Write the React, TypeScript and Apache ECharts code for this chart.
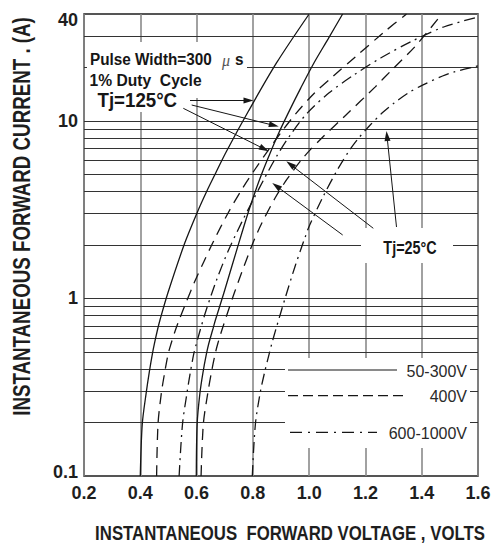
import React, { useEffect, useRef } from 'react';
import * as echarts from 'echarts';

// ---- data (forward voltage V, forward current A) ----
const xTickValues = [0.2, 0.4, 0.6, 0.8, 1.0, 1.2, 1.4, 1.6];
const yGridValues = [0.2, 0.3, 0.4, 0.5, 0.6, 0.7, 0.8, 0.9, 1, 2, 3, 4, 5, 6, 7, 8, 9, 10, 20, 30];

const solid125: [number, number][] = [
  [0.400, 0.1], [0.407, 0.196], [0.421, 0.294], [0.432, 0.385], [0.443, 0.487], [0.450, 0.554],
  [0.461, 0.664], [0.470, 0.756], [0.498, 1.073], [0.558, 2.05], [0.603, 3.07], [0.635, 3.98],
  [0.668, 5.09], [0.705, 6.68], [0.785, 11.4], [0.884, 21.2], [1.000, 40],
];
const solid25: [number, number][] = [
  [0.599, 0.1], [0.602, 0.196], [0.612, 0.294], [0.623, 0.385], [0.635, 0.487], [0.643, 0.554],
  [0.657, 0.664], [0.667, 0.756], [0.697, 1.073], [0.750, 2.05], [0.784, 3.07], [0.808, 3.98],
  [0.830, 4.96], [0.863, 6.68], [0.892, 8.55], [0.926, 11.1], [0.970, 15.3], [1.017, 21.2],
  [1.067, 28.9], [1.119, 40],
];
const dashed125: [number, number][] = [
  [0.458, 0.1], [0.463, 0.196], [0.475, 0.294], [0.487, 0.385], [0.499, 0.487], [0.509, 0.554],
  [0.525, 0.664], [0.538, 0.756], [0.562, 0.943], [0.593, 1.24], [0.625, 1.60], [0.659, 2.08],
  [0.712, 3.03], [0.766, 4.24], [0.806, 5.29], [0.850, 6.68], [0.907, 8.89], [0.955, 11.1],
  [1.020, 14.4], [1.086, 17.9], [1.164, 22.9], [1.267, 31.7], [1.346, 40],
];
const dashed25: [number, number][] = [
  [0.616, 0.1], [0.624, 0.196], [0.640, 0.294], [0.653, 0.385], [0.666, 0.487], [0.675, 0.554],
  [0.690, 0.664], [0.734, 1.073], [0.782, 1.73], [0.806, 2.16], [0.832, 2.66], [0.879, 3.68],
  [0.922, 4.71], [0.981, 6.26], [1.045, 8.01], [1.131, 10.8], [1.234, 15.5], [1.290, 19.1],
  [1.378, 26.4], [1.469, 39.5],
];
const dashDot125: [number, number][] = [
  [0.538, 0.1], [0.550, 0.196], [0.566, 0.294], [0.578, 0.385], [0.590, 0.487], [0.599, 0.554],
  [0.613, 0.664], [0.632, 0.839], [0.671, 1.27], [0.711, 1.83], [0.761, 2.70], [0.801, 3.59],
  [0.842, 4.77], [0.885, 6.34], [0.933, 8.33], [0.994, 11.1], [1.071, 14.4], [1.158, 18.1],
  [1.254, 22.6], [1.367, 28.2], [1.478, 33.8], [1.600, 38.5],
];
const dashDot25: [number, number][] = [
  [0.798, 0.1], [0.809, 0.196], [0.826, 0.294], [0.842, 0.385], [0.858, 0.487], [0.867, 0.554],
  [0.882, 0.673], [0.916, 1.02], [0.949, 1.50], [0.986, 2.22], [1.002, 2.59], [1.049, 3.73],
  [1.100, 5.29], [1.144, 6.86], [1.176, 8.01], [1.217, 9.48], [1.260, 11.1], [1.302, 12.6],
  [1.353, 14.4], [1.403, 15.9], [1.474, 17.9], [1.516, 18.9], [1.600, 20.4],
];

const legendLabels = ['50-300V', '400V', '600-1000V'];

const FONT = '"Liberation Sans", Arial, Helvetica, sans-serif';
const INK = '#161616';
const DASHED = [11, 7];
const DASHDOT = [11, 5, 2, 5];

function curve(name: string, data: [number, number][], type: any) {
  return {
    type: 'line',
    name,
    data,
    symbol: 'none',
    showSymbol: false,
    smooth: 0.3,
    silent: true,
    z: 3,
    lineStyle: { color: INK, width: 1.3, type },
  };
}

function text(x: number, y: number, t: string, font: string, extra: any = {}) {
  const align = extra.align || 'left';
  return {
    type: 'text',
    x,
    y,
    z: 7,
    silent: true,
    scaleX: extra.scaleX ?? 1,
    rotation: extra.rotation ?? 0,
    style: {
      text: t,
      font,
      fill: extra.fill || INK,
      align,
      verticalAlign: 'middle',
      textAlign: align,
      textVerticalAlign: 'middle',
    },
  };
}

function whiteRect(x: number, y: number, w: number, h: number) {
  return { type: 'rect', z: 2, silent: true, shape: { x, y, width: w, height: h }, style: { fill: '#ffffff' } };
}

function hLine(x1: number, x2: number, y: number, dash: any) {
  return {
    type: 'line', z: 6, silent: true,
    shape: { x1, y1: y, x2, y2: y },
    style: { stroke: INK, lineWidth: 1.2, lineDash: dash },
  };
}

export default function App() {
  const ref = useRef<HTMLDivElement>(null);

  useEffect(() => {
    if (!ref.current) return;
    const chart = echarts.init(ref.current, null, { renderer: 'svg' });

    const tickBase = { fontFamily: FONT, fontSize: 18, fontWeight: 'bold', color: '#1e1e1e' };

    const option: any = {
      animation: false,
      backgroundColor: '#ffffff',
      grid: {
        left: 84, right: 19, top: 14, bottom: 69,
        show: true, borderColor: '#1e1e1e', borderWidth: 1.5,
        backgroundColor: 'transparent',
        outerBoundsMode: 'none',
      },
      xAxis: {
        type: 'value',
        min: xTickValues[0],
        max: xTickValues[xTickValues.length - 1],
        interval: 0.2,
        axisLine: { show: false },
        axisTick: { show: false },
        splitLine: { show: true, lineStyle: { color: '#8a8a8a', width: 1.6 } },
        axisLabel: {
          ...tickBase,
          margin: 8,
          formatter: (v: number) => v.toFixed(1),
        },
      },
      yAxis: {
        type: 'log',
        logBase: 10,
        min: 0.1,
        max: 40,
        axisLine: { show: false },
        axisTick: { show: false },
        splitLine: { show: false },
        minorSplitLine: { show: false },
        axisLabel: {
          margin: 6,
          formatter: (v: number) => {
            const s = v < 1 ? String(Math.round(v * 10) / 10) : String(Math.round(v));
            if (Math.abs(v - 0.1) < 1e-6) return '{lo|' + s + '}';
            if (Math.abs(v - 40) < 1e-6) return '{hi|' + s + '}';
            return '{n|' + s + '}';
          },
          rich: {
            n: { ...tickBase },
            lo: { ...tickBase, padding: [0, 0, 9, 0] },
            hi: { ...tickBase, padding: [12, 0, 0, 0] },
          },
        },
      },
      series: [
        {
          type: 'line',
          name: 'grid',
          data: [[0.2, 0.1]],
          symbol: 'none',
          silent: true,
          lineStyle: { opacity: 0 },
          markLine: {
            silent: true,
            z: 1,
            symbol: ['none', 'none'],
            label: { show: false },
            emphasis: { disabled: true },
            lineStyle: { color: '#333333', width: 1.2, type: 'solid' },
            data: yGridValues.map((v) => ({ yAxis: v })),
          },
        },
        curve('50-300V Tj=125°C', solid125, 'solid'),
        curve('50-300V Tj=25°C', solid25, 'solid'),
        curve('400V Tj=125°C', dashed125, DASHED),
        curve('400V Tj=25°C', dashed25, DASHED),
        curve('600-1000V Tj=125°C', dashDot125, DASHDOT),
        curve('600-1000V Tj=25°C', dashDot25, DASHDOT),
        {
          type: 'line',
          name: 'arrows',
          data: [[0.2, 0.1]],
          symbol: 'none',
          silent: true,
          lineStyle: { opacity: 0 },
          markLine: {
            silent: true,
            z: 5,
            symbol: ['none', 'triangle'],
            symbolSize: [6, 10],
            label: { show: false },
            emphasis: { disabled: true },
            lineStyle: { color: INK, width: 1, type: 'solid' },
            data: [
              [{ x: 190, y: 100.5 }, { x: 248.5, y: 100.5 }],
              [{ x: 191.7, y: 105 }, { x: 273.9, y: 125.4 }],
              [{ x: 183.3, y: 108.3 }, { x: 264.3, y: 149 }],
              [{ x: 373.3, y: 228.3 }, { x: 290.3, y: 164.4 }],
              [{ x: 342.7, y: 235 }, { x: 276.3, y: 186 }],
              [{ x: 396.5, y: 227 }, { x: 387, y: 136 }],
            ],
          },
        },
      ],
      graphic: {
        elements: [
          // white backgrounds behind annotations
          whiteRect(87, 42, 160, 30),
          whiteRect(87, 72, 120, 26),
          whiteRect(94, 92, 88, 20),
          whiteRect(361, 228, 92, 35),
          whiteRect(285, 358, 185, 90),
          // annotations
          text(90, 59, 'Pulse Width=300', `bold 17px ${FONT}`, { scaleX: 0.9 }),
          text(222, 60, 'μ', `italic 16px "Liberation Serif", "DejaVu Serif", serif`, { fill: '#555555' }),
          text(235, 59, 's', `bold 17px ${FONT}`, { scaleX: 0.9 }),
          text(89.5, 79.5, '1% Duty  Cycle', `bold 17px ${FONT}`, { scaleX: 0.92 }),
          text(97.5, 99.5, 'Tj=125°C', `bold 21px ${FONT}`, { scaleX: 0.89 }),
          text(410, 247.5, 'Tj=25°C', `bold 18px ${FONT}`, { scaleX: 0.8, align: 'center' }),
          // legend
          hLine(288, 397, 370, null),
          hLine(288, 408, 395.7, [10, 5]),
          hLine(290, 377, 432.3, [12, 6, 2, 6]),
          text(467, 371, legendLabels[0], `16px ${FONT}`, { align: 'right', fill: '#2a2a2a' }),
          text(467, 396, legendLabels[1], `16px ${FONT}`, { align: 'right', fill: '#2a2a2a' }),
          text(467, 433.5, legendLabels[2], `16px ${FONT}`, { align: 'right', fill: '#2a2a2a' }),
          // axis titles
          text(21.5, 216.5, 'INSTANTANEOUS FORWARD CURRENT . (A)', `bold 23px ${FONT}`, {
            align: 'center', rotation: Math.PI / 2, scaleX: 0.815, fill: '#1e1e1e',
          }),
          text(290, 532.5, 'INSTANTANEOUS  FORWARD VOLTAGE , VOLTS', `bold 20px ${FONT}`, {
            align: 'center', scaleX: 0.84, fill: '#1e1e1e',
          }),
        ],
      },
    };

    chart.setOption(option);
    return () => chart.dispose();
  }, []);

  return (
    <div
      ref={ref}
      style={{ position: 'fixed', left: 0, top: 0, width: 497, height: 545, background: '#ffffff' }}
    />
  );
}
